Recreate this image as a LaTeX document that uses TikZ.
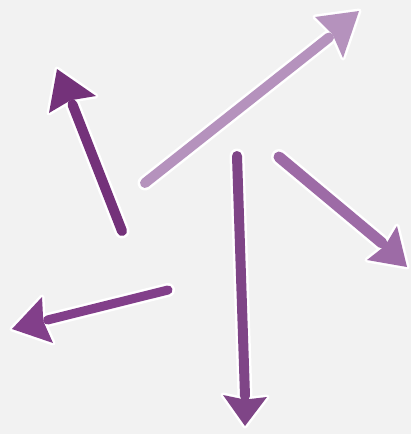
\documentclass[tikz,border=0pt]{standalone}
\usetikzlibrary{calc}
\definecolor{bg}{HTML}{F2F2F2}
\definecolor{pA}{HTML}{74327A}
\definecolor{pB}{HTML}{B592BD}
\definecolor{pC}{HTML}{7F4587}
\definecolor{pD}{HTML}{9D6BA6}
\definecolor{pE}{HTML}{823F8A}
\newcommand\purparrow[7]{% color, tail, tip, barb1, barb2, width, halo width
  \draw[white, line width=#7, line cap=round] #2 -- ($#4!0.5!#5$);
  \filldraw[white, line width=5pt, line join=round] #3 -- #4 -- ($($#4!0.5!#5$)!0.12!#3$) -- #5 -- cycle;
  \draw[#1, line width=#6, line cap=round] #2 -- ($#4!0.5!#5$);
  \fill[#1] #3 -- #4 -- ($($#4!0.5!#5$)!0.12!#3$) -- #5 -- cycle;}
\begin{document}
\begin{tikzpicture}[x=1pt,y=-1pt]
\fill[bg] (0,0) rectangle (411,434);
\useasboundingbox (0,0) rectangle (411,434);
% dark arrow pointing up-left
\purparrow{pA}{(122,231)}{(57,69)}{(49,113)}{(96,96)}{10pt}{15pt}
% light arrow pointing up-right
\purparrow{pB}{(145,183)}{(359,11)}{(315,17)}{(343,58)}{10pt}{15pt}
% vertical arrow pointing down
\purparrow{pC}{(237,156)}{(245,426)}{(223,395)}{(267,397)}{10pt}{15pt}
% arrow pointing down-right
\purparrow{pD}{(279,157)}{(407,267)}{(397,226)}{(367,260)}{11pt}{16pt}
% arrow pointing left
\purparrow{pE}{(168,290)}{(12,329)}{(42,297)}{(53,343)}{9pt}{14pt}
\end{tikzpicture}
\end{document}
